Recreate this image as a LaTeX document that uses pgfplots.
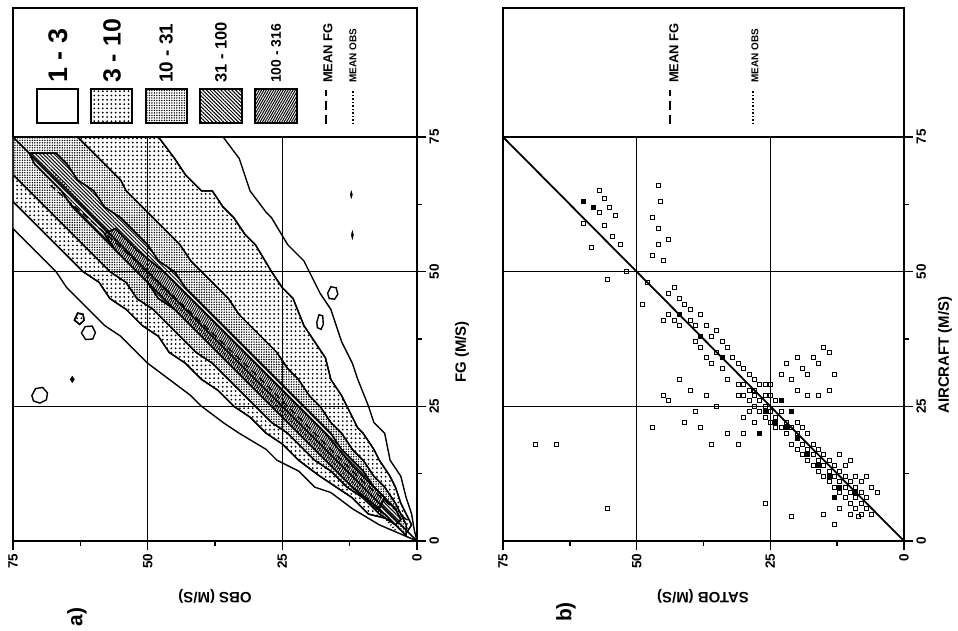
\documentclass[border=0pt]{standalone}
\usepackage{fontspec}
\setmainfont{Liberation Sans}
\usepackage{pgfplots}
\pgfplotsset{compat=1.18}
\usetikzlibrary{patterns.meta}
\tikzset{
 b1/.style={draw=black, line width=1.4pt, fill=white},
 b2/.style={draw=black, line width=1.4pt, fill=white, postaction={pattern={Dots[distance=4.3pt,radius=1.0pt]}}},
 b3/.style={draw=black, line width=1.4pt, fill=white, postaction={pattern={Dots[distance=2.5pt,radius=0.8pt]}}},
 b4/.style={draw=black, line width=1.4pt, fill=white, postaction={pattern={Lines[angle=-45,distance=2.6pt,line width=1.0pt]}}},
 b5/.style={draw=black, line width=1.4pt, fill=white, postaction={pattern={Lines[angle=60,distance=2.1pt,line width=1.0pt]}}},
}
\pgfplotsset{myax/.style={
 x dir=reverse, xmin=0, xmax=75, ymin=0, ymax=98.9,
 axis line style={line width=2pt},
 xtick={0,25,50,75}, ytick={0,25,50,75}, minor tick num=1,
 tick align=outside, xtick pos=bottom, ytick pos=right,
 major tick length=9bp, minor tick length=5bp,
 tick style={line width=1.6pt, black},
 yticklabel pos=right,
 ticklabel style={font=\fontsize{13.5}{15}\selectfont\bfseries},
 xticklabel style={rotate=90, anchor=east},
 yticklabel style={rotate=90, anchor=north},
 /pgf/number format/assume math mode=true,
 anchor=south west,
}}
\begin{document}
\begin{tikzpicture}
\path[use as bounding box] (0,0) rectangle (958bp,-631bp);
% ---------------- panel a ----------------
\begin{axis}[myax, x=5.387bp, y=5.387bp, at={(13bp,-541bp)}]
% 1-3
\addplot[b1] coordinates {(0,0)(7,3)(12,6)(16,9)(19,10)(22,13)(26,15)(28,17)(33,20)(36,22)(40,25)(42,27)(46,30)(50,33)(52,35)(55,38)(58,40)(61,43)(63,45)(65,47)(67,50)(70,53)(72,55)(75,58)(75,75)(36,75)(33,71)(31,65)(28,61)(27,60)(24,55)(21,52)(20,50)(18,46)(16,43)(15,40)(14,37)(12,33)(11,30)(9,25)(8,22)(6,20)(5,15)(3,12)(2,8)(1,5)(0.5,2)} -- cycle;
% 3-10
\addplot[b2] coordinates {(2,1.5)(5,4)(9,5)(12,8)(15,10)(18,12)(22,15)(25,18)(28,20)(31,23)(34,25)(37,28)(40,30)(43,33)(46,35)(48,38)(51,40)(54,43)(57,45)(59,48)(62,50)(65,53)(67,55)(70,58)(72,60)(75,63)(75,75)(48,75)(45,71)(43,68)(40,65)(38,65)(36,62)(34,60)(32,57)(30,55)(27,50)(25,47)(23,45)(21,40)(19,37)(17,34)(16,30)(14,27)(13,25)(11,21)(10,20)(8,17)(7,15)(5,12)(4,10)(3,7)(2,5)(1,3)} -- cycle;
% 10-31
\addplot[b3] coordinates {(2,1)(4,3)(7,5)(10,8)(13,10)(16,13)(19,15)(22,18)(24,20)(27,22)(30,25)(33,28)(35,30)(38,33)(41,35)(44,38)(46,40)(49,43)(52,45)(54,48)(57,50)(60,53)(62,55)(65,58)(67,60)(70,63)(72,65)(75,68)(75,75)(63,75)(60,72)(58,70)(55,67)(54,65)(51,62)(49,60)(46,57)(44,55)(42,52)(40,50)(37,47)(35,45)(33,42)(31,40)(28,37)(26,35)(24,32)(22,30)(20,27)(18,25)(16,22)(14,20)(12,17)(10,15)(8,12)(6,10)(4,7)(3,5)(2,3)} -- cycle;
% 31-100
\addplot[b4] coordinates {(4,3)(6,5)(9,7)(12,10)(14,12)(17,15)(19,17)(22,20)(24,22)(27,25)(29,27)(32,30)(34,32)(37,35)(39,37)(42,40)(45,43)(48,45)(50,48)(52,50)(55,53)(57,55)(60,58)(62,60)(64,62)(66,65)(69,68)(71,70)(72,72)(67,72)(65,70)(63,67)(60,65)(58,62)(55,60)(53,58)(50,55)(48,52)(45,50)(43,47)(41,45)(38,42)(36,40)(33,37)(31,35)(28,32)(26,30)(23,27)(21,25)(18,22)(16,20)(14,17)(12,15)(10,13)(8,10)(6,8)(4,6)(3,4)} -- cycle;
% 100-316
\addplot[b5] coordinates {(7,6)(12,10)(17,15)(22,20)(27,25)(32,30)(37,35)(42,40)(47,45)(52,50)(56,54)(58,57)(56,58)(52,54)(47,50)(42,45)(37,40)(32,35)(27,30)(22,25)(17,20)(12,14)(8,10)(6,8)} -- cycle;
% islands
\addplot[b1] coordinates {(71.5,27)(70.8,28.3)(69.5,28.5)(68.6,27.5)(68.8,26.2)(70,25.6)(71.2,26)} -- cycle;
\addplot[b1] coordinates {(62.3,38.6)(61.6,39.8)(60.3,39.9)(59.7,38.7)(60.2,37.5)(61.5,37.4)} -- cycle;
\addplot[b1] coordinates {(16.6,46)(16,47.2)(15,47)(14.7,45.8)(15.3,44.9)(16.3,45)} -- cycle;
\addplot[b1] coordinates {(18.6,40.6)(18.2,42)(17.5,41.8)(17.4,40.2)(17.8,39.3)(18.5,39.6)} -- cycle;
\addplot[b2] coordinates {(63.6,41)(63,42.3)(62,42.1)(61.8,41)(62.6,40.2)} -- cycle;
\addplot[draw=black, fill=black] coordinates {(12.2,56.8)(12,57.6)(11.8,56.8)(12,56)} -- cycle;
\addplot[draw=black, fill=black] coordinates {(12.4,64.3)(12.2,65)(12,64.3)(12.2,63.6)} -- cycle;
\addplot[draw=black, fill=black] coordinates {(64.4,30)(64,30.6)(63.6,30)(64,29.4)} -- cycle;
% grid
\draw[line width=1.1pt] (axis cs:25,0) -- (axis cs:25,75);
\draw[line width=1.1pt] (axis cs:50,0) -- (axis cs:50,75);
\draw[line width=1.1pt] (axis cs:0,25) -- (axis cs:75,25);
\draw[line width=1.1pt] (axis cs:0,50) -- (axis cs:75,50);
\draw[line width=2pt] (axis cs:0,75) -- (axis cs:75,75);
% lines
\addplot[line width=1.5pt] coordinates {(0,0)(75,75)};
\addplot[line width=1.4pt, dash pattern=on 7pt off 4pt] coordinates {(2,4)(10,11)(20,21)(30,31)(40,40.5)(50,50)(60,59)(68,66)};
\addplot[line width=1.4pt, dash pattern=on 1.2pt off 2pt] coordinates {(4,2)(10,9)(20,19)(30,29)(40,39)(50,49.5)(60,60)(68,69)};
\end{axis}
% ---------------- panel b ----------------
\begin{axis}[myax, x=5.347bp, y=5.387bp, at={(503bp,-541bp)}]
\draw[line width=1.1pt] (axis cs:25,0) -- (axis cs:25,75);
\draw[line width=1.1pt] (axis cs:50,0) -- (axis cs:50,75);
\draw[line width=1.1pt] (axis cs:0,25) -- (axis cs:75,25);
\draw[line width=1.1pt] (axis cs:0,50) -- (axis cs:75,50);
\draw[line width=2pt] (axis cs:0,75) -- (axis cs:75,75);
\addplot[line width=1.8pt] coordinates {(0,0)(75,75)};
\addplot[only marks, mark=square, mark size=2bp, mark options={line width=0.9pt, fill=white}] table {
57 65
56 63.5
55 62
54 60.5
57 61
56 58.5
54.5 56.5
53 55
58.5 54.5
60 59
52 50
55.5 48.5
46 66
45.5 63
47 60
46 58
44 56
46 55
47 53
45 52
48 48
49 44
44 46
43 47
42 45
41 44
40 43
44 42
43 41
42 40
40 41
39 40
38 42
45 41
37 40
36 38
35 39
34 37
33 36
35 35
32 34
31 33
36 33
34 32
30 32
33 30
31 29
38 36
37 34
39 37
29 31
28 30
29 28
28 27
27 26
26 25
25 24
24 23
23 24
22 22
27 24
26 23
25 22
24 21
28 25
29 26
30 27
26 27
25 27
24 26
23 21
22 20
21 21
20 20
27 29
28 28
26 29
25 29
30 29
31 27
29 24
30 23
28 22
15 36
14 35
17 34
16 33
13 31
18 31
20 34
19 32
14 28
21 30
22 33
20 28
18 27
16 27
23 31
35 25
37 27
40 28
33 20
38 21
41 22
36 18
42 30
45 27
44 26
39 24
31 18
30 20
47 21
19 18
18 17
17 16
16 15
15 14
14 13
13 12
12 11
11 10
10 9
9 8
8 7
17 14
16 13
15 12
14 11
13 10
12 9
11 8
10 7
9 6
18 15
19 16
20 17
21 18
15 16
14 15
13 14
12 13
11 12
10 11
9 10
8 9
7 8
16 17
17 18
18 20
19 21
20 22
7 6
6 5
8 5
10 5
12 6
9 12
8 11
6 10
5 9
7 12
11 14
12 16
10 15
65 18
69 18
55.5 6
21 4.5
8.6 4.5
26 7
13 3
15 5
};
\addplot[only marks, mark=square*, mark size=2bp, mark options={line width=0.9pt, fill=black}] table {
16 14
14 12
12 10
18 16
20 19
22 21
24 22
26 24
34 34
38 38
42 42
58 62
60 63
21 24
23 26
13 8
9 9
27 20
};
\end{axis}
% ---------------- legend a ----------------
\path[b1, line width=1.6pt] (37bp,-89bp) rectangle (78bp,-123bp);
\path[b2, line width=1.6pt] (91bp,-89bp) rectangle (132bp,-123bp);
\path[b3, line width=1.6pt] (146bp,-89bp) rectangle (187bp,-123bp);
\path[b4, line width=1.6pt] (200bp,-89bp) rectangle (242bp,-123bp);
\path[b5, line width=1.6pt] (255bp,-89bp) rectangle (297bp,-123bp);
\draw[line width=1.8pt, dash pattern=on 9pt off 5pt] (326bp,-124bp) -- (326bp,-90bp);
\draw[line width=1.8pt, dash pattern=on 1.5pt off 2pt] (353bp,-124bp) -- (353bp,-90bp);
\node[rotate=90, anchor=west, inner sep=0pt, font=\fontsize{27}{29}\selectfont\bfseries] at (58bp,-83bp) {1 - 3};
\node[rotate=90, anchor=west, inner sep=0pt, font=\fontsize{25}{27}\selectfont\bfseries] at (112bp,-83bp) {3 - 10};
\node[rotate=90, anchor=west, inner sep=0pt, font=\fontsize{19}{21}\selectfont\bfseries] at (166bp,-83bp) {10 - 31};
\node[rotate=90, anchor=west, inner sep=0pt, font=\fontsize{16.5}{18}\selectfont\bfseries] at (221bp,-83bp) {31 - 100};
\node[rotate=90, anchor=west, inner sep=0pt, font=\fontsize{14}{16}\selectfont\bfseries] at (276bp,-83bp) {100 - 316};
\node[rotate=90, anchor=west, inner sep=0pt, font=\fontsize{13}{15}\selectfont\bfseries] at (328bp,-83bp) {MEAN FG};
\node[rotate=90, anchor=west, inner sep=0pt, font=\fontsize{10}{12}\selectfont\bfseries] at (353bp,-83bp) {MEAN OBS};
% ---------------- legend b ----------------
\draw[line width=1.8pt, dash pattern=on 9pt off 5pt] (670bp,-124bp) -- (670bp,-90bp);
\draw[line width=1.8pt, dash pattern=on 1.5pt off 2pt] (753bp,-124bp) -- (753bp,-90bp);
\node[rotate=90, anchor=west, inner sep=0pt, font=\fontsize{13}{15}\selectfont\bfseries] at (674bp,-83bp) {MEAN FG};
\node[rotate=90, anchor=west, inner sep=0pt, font=\fontsize{10}{12}\selectfont\bfseries] at (755bp,-83bp) {MEAN OBS};
% ---------------- labels ----------------
\node[rotate=180, font=\fontsize{15}{17}\selectfont\bfseries] at (215bp,-596bp) {OBS (M/S)};
\node[rotate=90, font=\fontsize{15}{17}\selectfont\bfseries] at (462bp,-352bp) {FG (M/S)};
\node[rotate=90, font=\fontsize{21}{23}\selectfont\bfseries] at (77bp,-617bp) {a)};
\node[rotate=180, font=\fontsize{15}{17}\selectfont\bfseries] at (703bp,-596bp) {SATOB (M/S)};
\node[rotate=90, font=\fontsize{15}{17}\selectfont\bfseries] at (945bp,-355bp) {AIRCRAFT (M/S)};
\node[rotate=90, font=\fontsize{21}{23}\selectfont\bfseries] at (566bp,-612bp) {b)};
\end{tikzpicture}
\end{document}
